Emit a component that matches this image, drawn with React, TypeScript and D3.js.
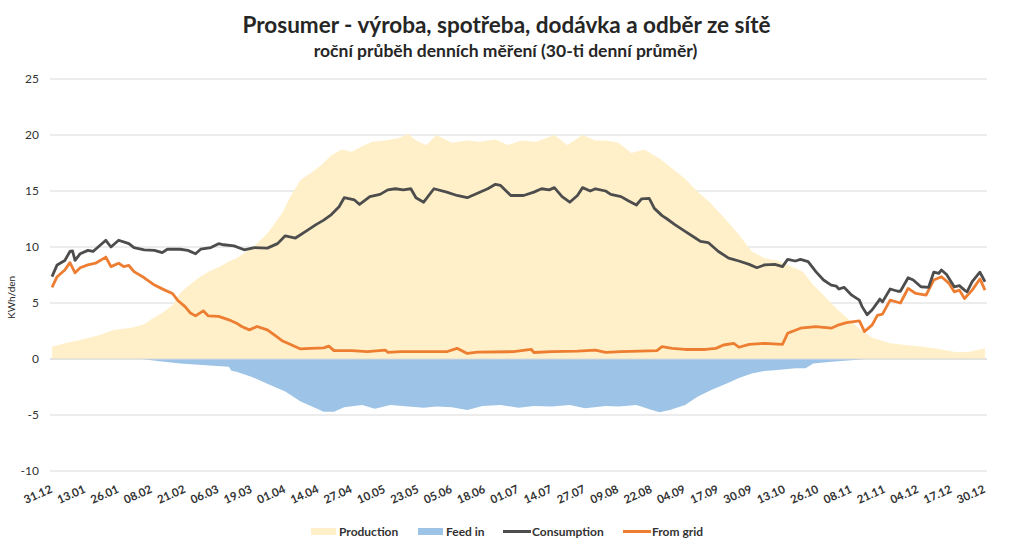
import React from "react";
import * as d3 from "d3";

// day offset from 31.12 (0) to 30.12 (364)
const tickLabels = ["31.12","13.01","26.01","08.02","21.02","06.03","19.03","01.04","14.04","27.04","10.05","23.05","05.06","18.06","01.07","14.07","27.07","09.08","22.08","04.09","17.09","30.09","13.10","26.10","08.11","21.11","04.12","17.12","30.12"];
const yTicks = [-10, -5, 0, 5, 10, 15, 20, 25];

const production: [number, number][] = [[0,1.1],[5,1.4],[11,1.7],[18,2.1],[24,2.6],[31,2.8],[36,3.1],[39,3.6],[43,4.1],[47,4.8],[50,5.9],[53,6.5],[57,7.2],[61,7.8],[65,8.2],[69,8.7],[72,9.0],[78,9.9],[84,11.2],[90,13.1],[93,14.5],[97,16.0],[101,16.6],[105,17.3],[109,18.2],[113,18.7],[117,18.5],[121,19.0],[125,19.4],[130,19.5],[135,19.7],[139,20.1],[142,19.5],[146,19.1],[150,20.0],[156,19.3],[162,19.5],[167,19.4],[173,19.6],[178,19.1],[183,19.5],[189,19.4],[196,20.0],[201,19.1],[207,20.0],[212,19.5],[216,19.5],[221,19.3],[226,18.4],[231,18.7],[237,17.9],[242,17.0],[247,16.1],[252,14.9],[257,13.9],[263,12.4],[268,11.1],[273,9.6],[278,9.0],[283,8.8],[287,8.4],[293,7.8],[297,6.6],[301,5.7],[306,4.5],[311,3.5],[315,2.7],[320,1.9],[327,1.4],[333,1.25],[340,1.1],[346,0.9],[353,0.6],[358,0.65],[364,0.95]];

const feedIn: [number, number][] = [[0,0],[35,0],[38,-0.1],[42,-0.2],[50,-0.4],[63,-0.6],[69,-0.7],[70,-1.05],[72,-1.13],[78,-1.6],[84,-2.2],[91,-2.9],[97,-3.8],[103,-4.4],[106,-4.7],[110,-4.7],[114,-4.3],[121,-4.1],[126,-4.45],[132,-4.1],[139,-4.25],[145,-4.35],[150,-4.25],[156,-4.3],[162,-4.55],[168,-4.2],[175,-4.1],[182,-4.35],[188,-4.2],[195,-4.25],[202,-4.1],[208,-4.4],[216,-4.2],[221,-4.25],[228,-4.1],[234,-4.55],[237,-4.75],[241,-4.55],[247,-4.1],[252,-3.35],[257,-2.8],[263,-2.2],[268,-1.7],[273,-1.3],[278,-1.07],[283,-0.98],[290,-0.83],[294,-0.83],[297,-0.4],[304,-0.24],[313,-0.09],[317,0],[364,0]];

const consumption: [number, number][] = [[0,7.35],[2,8.4],[5,8.8],[7,9.6],[8,9.65],[9,8.8],[11,9.4],[14,9.7],[16,9.6],[18,10.0],[21,10.6],[23,10.0],[26,10.6],[30,10.3],[32,9.95],[36,9.75],[40,9.7],[43,9.5],[45,9.8],[50,9.8],[53,9.7],[56,9.4],[58,9.8],[62,9.95],[65,10.3],[67,10.2],[71,10.1],[75,9.75],[79,9.95],[84,9.9],[88,10.3],[91,11.0],[95,10.8],[99,11.4],[103,12.0],[106,12.4],[109,12.9],[112,13.6],[114,14.4],[118,14.2],[120,13.8],[124,14.5],[128,14.7],[131,15.1],[134,15.2],[137,15.1],[140,15.2],[142,14.4],[145,14.0],[149,15.2],[154,14.9],[158,14.6],[162,14.4],[166,14.8],[170,15.2],[173,15.6],[175,15.5],[179,14.6],[184,14.6],[188,14.9],[191,15.2],[194,15.1],[196,15.3],[199,14.5],[202,14.0],[205,14.6],[207,15.3],[210,15.0],[212,15.2],[216,15.0],[218,14.7],[222,14.5],[225,14.1],[228,13.75],[230,14.3],[233,14.35],[235,13.45],[238,12.8],[240,12.5],[243,12.0],[247,11.4],[251,10.8],[253,10.5],[256,10.4],[260,9.6],[264,9.0],[268,8.75],[272,8.45],[275,8.15],[278,8.4],[282,8.45],[285,8.25],[287,8.9],[290,8.75],[292,8.9],[295,8.7],[298,7.8],[301,7.05],[304,6.6],[306,6.5],[307,6.25],[309,6.4],[312,5.7],[315,5.25],[316,4.7],[318,3.95],[320,4.4],[323,5.35],[324,5.1],[327,6.25],[330,6.05],[331,6.05],[334,7.25],[336,7.05],[339,6.45],[342,6.4],[344,7.75],[346,7.65],[347,7.95],[349,7.55],[352,6.45],[354,6.55],[356,6.15],[357,6.0],[359,6.9],[362,7.75],[364,6.9]];

const fromGrid: [number, number][] = [[0,6.4],[2,7.35],[5,7.95],[7,8.6],[9,7.7],[11,8.15],[14,8.4],[17,8.55],[21,9.1],[23,8.25],[26,8.55],[28,8.25],[30,8.35],[32,7.8],[36,7.25],[40,6.6],[44,6.15],[47,5.85],[49,5.25],[52,4.65],[54,4.1],[56,3.85],[59,4.3],[61,3.85],[65,3.8],[69,3.5],[72,3.2],[74,2.9],[77,2.6],[80,2.9],[84,2.6],[87,2.1],[90,1.6],[92,1.4],[97,0.9],[101,0.95],[106,1.0],[108,1.15],[110,0.75],[117,0.75],[123,0.65],[130,0.8],[131,0.6],[136,0.65],[145,0.65],[154,0.65],[158,0.95],[162,0.5],[166,0.62],[180,0.65],[187,0.85],[188,0.58],[195,0.65],[205,0.7],[212,0.8],[216,0.6],[222,0.65],[236,0.75],[238,1.1],[242,0.95],[247,0.85],[255,0.85],[259,0.95],[262,1.25],[266,1.4],[268,1.05],[272,1.3],[278,1.4],[285,1.3],[287,2.3],[292,2.75],[298,2.9],[304,2.75],[307,3.05],[310,3.25],[315,3.4],[317,2.45],[320,3.05],[322,3.9],[324,4.0],[327,5.25],[331,5.0],[334,6.3],[337,5.85],[341,5.7],[344,7.05],[347,7.35],[350,6.75],[352,6.0],[354,6.15],[356,5.4],[359,6.15],[362,7.15],[364,6.15]];

const W = 1013, H = 552;
const FONT = "Lato, 'Open Sans', sans-serif";
const C_PROD = "#FFF0C9";
const C_FEED = "#9DC3E6";
const C_CONS = "#4D4D4D";
const C_GRID = "#ED7D31";

export default function App() {
  const x = d3.scaleLinear().domain([0, 364]).range([52, 985]);
  const y = d3.scaleLinear().domain([-10, 25]).range([471, 79]);

  const area = d3.area<[number, number]>().x(d => x(d[0])).y0(y(0)).y1(d => y(d[1]));
  const line = d3.line<[number, number]>().x(d => x(d[0])).y(d => y(d[1]));

  const legend = [
    { label: "Production", kind: "rect", color: C_PROD, x: 311, tx: 339 },
    { label: "Feed in", kind: "rect", color: C_FEED, x: 418, tx: 446 },
    { label: "Consumption", kind: "line", color: C_CONS, x: 503, tx: 532 },
    { label: "From grid", kind: "line", color: C_GRID, x: 623, tx: 652 },
  ];

  return (
    <div style={{ position: "absolute", left: 0, top: 0 }}>
      <svg width={W} height={H} style={{ display: "block", background: "#fff" }} fontFamily={FONT}>
        <rect width={W} height={H} fill="#fff" />
        <text x={506.5} y={33} textAnchor="middle" fontSize={22.5} fontWeight="bold" fill="#262626">
          Prosumer - výroba, spotřeba, dodávka a odběr ze sítě
        </text>
        <text x={505.5} y={57} textAnchor="middle" fontSize={17.5} fontWeight="bold" fill="#262626">
          roční průběh denních měření (30-ti denní průměr)
        </text>

        {yTicks.map(t => (
          <g key={t}>
            <line x1={50} x2={987} y1={y(t)} y2={y(t)} stroke="#D9D9D9" strokeWidth={1} />
            <text x={39} y={y(t) + 4} textAnchor="end" fontSize={12} fill="#333">{t}</text>
          </g>
        ))}

        <path d={area(production) || ""} fill={C_PROD} />
        <path d={area(feedIn) || ""} fill={C_FEED} />
        <line x1={50} x2={987} y1={y(0)} y2={y(0)} stroke="#D9D9D9" strokeWidth={1} />
        <path d={line(fromGrid) || ""} fill="none" stroke={C_GRID} strokeWidth={2.8} strokeLinejoin="round" />
        <path d={line(consumption) || ""} fill="none" stroke={C_CONS} strokeWidth={2.8} strokeLinejoin="round" />

        <text transform={`translate(15,${y(5.5)}) rotate(-90)`} textAnchor="middle" fontSize={10} fill="#262626">KWh/den</text>

        {tickLabels.map((lab, i) => (
          <text key={lab + i} transform={`translate(${x(i * 13) + 1},${492}) rotate(-24)`} textAnchor="end" fontSize={11.5} fontWeight="bold" fill="#333">
            {lab}
          </text>
        ))}

        {legend.map(l => (
          <g key={l.label}>
            {l.kind === "rect"
              ? <rect x={l.x} y={528} width={25} height={7} fill={l.color} />
              : <line x1={l.x} x2={l.x + 28} y1={531.5} y2={531.5} stroke={l.color} strokeWidth={3} />}
            <text x={l.tx} y={536} fontSize={12} fontWeight="bold" fill="#333">{l.label}</text>
          </g>
        ))}
      </svg>
    </div>
  );
}
